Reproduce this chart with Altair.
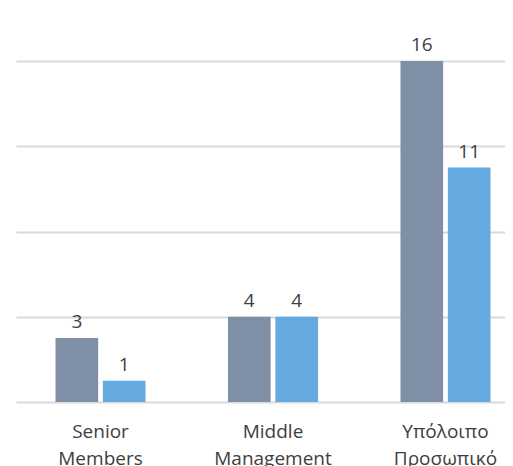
import altair as alt
import pandas as pd

categories = ["Senior Members", "Middle Management", "Υπόλοιπο Προσωπικό"]
series = ["Σειρά 1", "Σειρά 2"]
values_1 = [3, 4, 16]
values_2 = [1, 4, 11]
colors = ["#7f8fa6", "#64aae0"]
y_ticks = [0, 4, 8, 12, 16]

rows = []
for c, a, b in zip(categories, values_1, values_2):
    rows.append({"cat": c, "series": series[0], "value": a})
    rows.append({"cat": c, "series": series[1], "value": b})
df = pd.DataFrame(rows)

FONT = "Open Sans"
TXT = "#404040"

x = alt.X("cat:N", sort=categories, title=None,
          scale=alt.Scale(range=[0, 514], paddingInner=0.478, paddingOuter=0.229),
          axis=alt.Axis(domain=False, ticks=False, labelAngle=0, labelFont=FONT,
                        labelFontSize=19, labelColor=TXT, labelPadding=20,
                        labelLineHeight=27, labelExpr="split(datum.label, ' ')"))
xo = alt.XOffset("series:N", sort=series, scale=alt.Scale(paddingInner=0.1))
y = alt.Y("value:Q", title=None,
          scale=alt.Scale(domain=[0, 16], nice=False),
          axis=alt.Axis(values=y_ticks, labels=False, ticks=False, domain=False,
                        grid=True, gridColor="#d9d9d9", gridWidth=2))

base = alt.Chart(df)
bars = base.mark_bar().encode(
    x=x, xOffset=xo, y=y,
    color=alt.Color("series:N", sort=series, legend=None,
                    scale=alt.Scale(domain=series, range=colors)),
)
labels = base.mark_text(baseline="bottom", dy=-6, font=FONT, fontSize=19, color=TXT).encode(
    x=x, xOffset=xo, y=y, text="value:Q"
)

chart = alt.layer(bars, labels).properties(
    width=489, height=341,
    autosize=alt.AutoSizeParams(type="none"),
    padding={"left": 8, "top": 53, "right": 0, "bottom": 64},
).configure_view(stroke=None)

chart.save("out.html", embed_options={"renderer": "svg", "actions": False})
